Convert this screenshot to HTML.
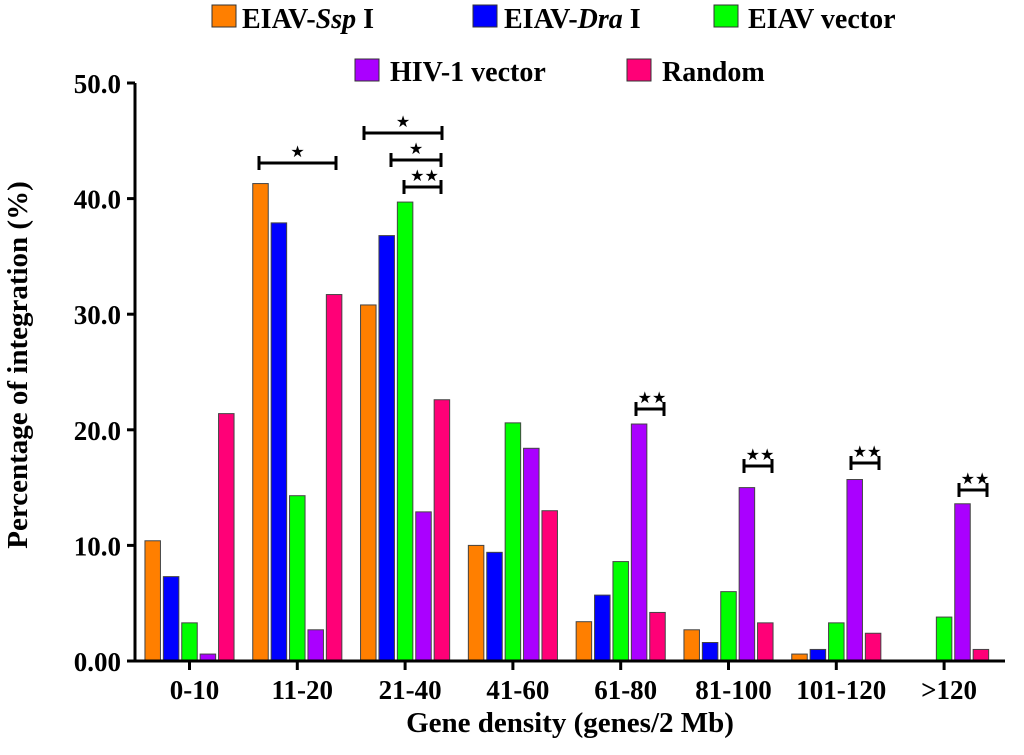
<!DOCTYPE html>
<html><head><meta charset="utf-8"><style>
body{margin:0;background:#fff}
svg{display:block;font-family:"Liberation Serif",serif;font-weight:bold}
</style></head><body>
<svg id="chart" width="1024" height="755" viewBox="0 0 1024 755" xmlns="http://www.w3.org/2000/svg">
<g id="legend" font-size="28">
<g><rect x="212" y="5" width="24" height="22" fill="#ff7f00" stroke="#333"/><text x="242" y="28">EIAV-<tspan font-style="italic">Ssp</tspan> I</text></g>
<g><rect x="473" y="5" width="24" height="22" fill="#0000ff" stroke="#333"/><text x="504" y="28">EIAV-<tspan font-style="italic">Dra</tspan> I</text></g>
<g><rect x="714" y="5" width="24" height="22" fill="#00ff00" stroke="#333"/><text x="748" y="28">EIAV vector</text></g>
<g><rect x="355" y="59" width="24" height="22" fill="#aa00ff" stroke="#333"/><text x="390" y="81">HIV-1 vector</text></g>
<g><rect x="627" y="59" width="24" height="22" fill="#ff0077" stroke="#333"/><text x="662" y="81">Random</text></g>
</g>
<g id="bars"></g>
<g id="axes"></g>
<g id="sig"></g>
<text transform="translate(27,365) rotate(-90)" text-anchor="middle" font-size="29">Percentage of integration (%)</text>
<text x="570" y="732" text-anchor="middle" font-size="29">Gene density (genes/2 Mb)</text>
</svg>
<script>
const categories=["0-10","11-20","21-40","41-60","61-80","81-100","101-120",">120"];
const seriesNames=["EIAV-Ssp I","EIAV-Dra I","EIAV vector","HIV-1 vector","Random"];
const ssp=[10.4,41.3,30.8,10.0,3.4,2.7,0.6,0];
const dra=[7.3,37.9,36.8,9.4,5.7,1.6,1.0,0];
const eiavVec=[3.3,14.3,39.7,20.6,8.6,6.0,3.3,3.8];
const hivVec=[0.6,2.7,12.9,18.4,20.5,15.0,15.7,13.6];
const random=[21.4,31.7,22.6,13.0,4.2,3.3,2.4,1.0];
const yTicks=[0,10,20,30,40,50];
const yTickLabels=["0.00","10.0","20.0","30.0","40.0","50.0"];
const colors=["#ff7f00","#0000ff","#00ff00","#aa00ff","#ff0077"];
const series=[ssp,dra,eiavVec,hivVec,random];
const NS="http://www.w3.org/2000/svg";
const y0=661,yPer=11.56;
function yScale(v){return y0-v*yPer;}
function xGroup(i){return 189.5+107.8*i;}
const pitch=18.4,bw=15.5;
function xBar(i,s){return xGroup(i)+(s-2)*pitch-bw/2;}
function mk(tag,attrs,parent){const e=document.createElementNS(NS,tag);for(const k in attrs)e.setAttribute(k,attrs[k]);parent.appendChild(e);return e;}
const bars=document.getElementById('bars');
series.forEach((arr,s)=>{arr.forEach((v,i)=>{
 if(v<=0)return;
 const r=mk('rect',{x:xBar(i,s),y:yScale(v),width:bw,height:y0-yScale(v),fill:colors[s],stroke:'#444','stroke-width':1},bars);
 
 
});});
const axes=document.getElementById('axes');
let l=mk('line',{x1:135,y1:83,x2:135,y2:y0,stroke:'#000','stroke-width':3},axes);


l=mk('line',{x1:134,y1:y0,x2:1005,y2:y0,stroke:'#000','stroke-width':3},axes);


yTicks.forEach((t,k)=>{
 mk('line',{x1:127,y1:yScale(t),x2:135,y2:yScale(t),stroke:'#000','stroke-width':3},axes);
 const tx=mk('text',{x:121,y:yScale(t)+10,'text-anchor':'end','font-size':27},axes);
 tx.textContent=yTickLabels[k];
 
 
});
categories.forEach((c,i)=>{
 mk('line',{x1:xGroup(i),y1:y0,x2:xGroup(i),y2:y0+9,stroke:'#000','stroke-width':3},axes);
 const tx=mk('text',{x:xGroup(i)+5,y:y0+38,'text-anchor':'middle','font-size':27},axes);
 tx.textContent=c;
 
 
});
const sig=document.getElementById('sig');
const brackets=[[259,336,163,"★"],[364,442,133,"★"],[391,441,160,"★"],[404,441,187,"★★"],[636,664,409,"★★"],[744,772,466,"★★"],[851,879,463,"★★"],[959,987,490,"★★"]];
brackets.forEach(b=>{
 const g=mk('g',{},sig);
 
 
 mk('path',{d:`M${b[0]} ${b[2]-7}V${b[2]+7}M${b[0]} ${b[2]}H${b[1]}M${b[1]} ${b[2]-7}V${b[2]+7}`,stroke:'#000','stroke-width':3,fill:'none'},g);
 const t=mk('text',{x:(b[0]+b[1])/2+(b[3].length>1?2:0),y:b[2]-6,'text-anchor':'middle','font-size':16,'font-family':'DejaVu Sans'},g);
 t.textContent=b[3];
});
</script>
</body></html>
